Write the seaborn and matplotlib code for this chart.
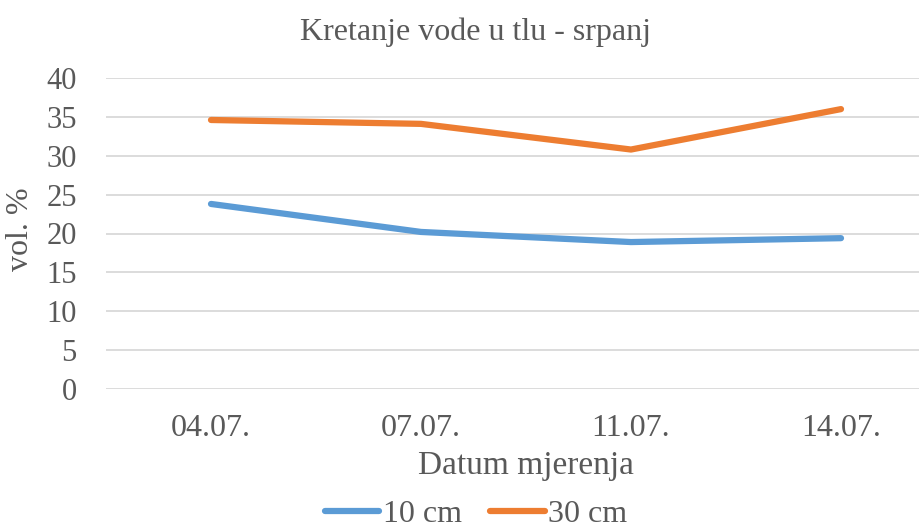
import matplotlib
matplotlib.use("Agg")
import matplotlib.pyplot as plt
from matplotlib.lines import Line2D
import seaborn as sns
import pandas as pd

# data
datumi = ["04.07.", "07.07.", "11.07.", "14.07."]
dubina_10cm = [23.8, 20.2, 18.9, 19.4]
dubina_30cm = [34.6, 34.1, 30.8, 36.0]
serije = ["10 cm", "30 cm"]
boje = ["#5B9BD5", "#ED7D31"]

df = pd.DataFrame({
    "datum": datumi * 2,
    "poz": list(range(len(datumi))) * 2,
    "vlaga": dubina_10cm + dubina_30cm,
    "serija": [serije[0]] * len(datumi) + [serije[1]] * len(datumi),
})

sns.set_style("white")
plt.rcParams["font.family"] = ["Liberation Serif", "DejaVu Serif"]
siva = "#595959"

W, H = 920, 529
fig = plt.figure(figsize=(W / 100, H / 100), dpi=100)
# plot area runs past the right edge, like in the original Excel chart
ax = fig.add_axes([106 / W, (H - 389) / H, 840 / W, (389 - 78) / H])

sns.lineplot(data=df, x="poz", y="vlaga", hue="serija", palette=boje,
             linewidth=4.5, ax=ax, legend=False, solid_capstyle="round")

ax.set_ylim(0, 40)
ax.set_xlim(-0.5, len(datumi) - 0.5)
ax.set_yticks(range(0, 41, 5))
ax.set_xticks(range(len(datumi)))
ax.set_xticklabels(datumi)
ax.tick_params(axis="x", length=0, labelsize=23, labelcolor=siva, pad=18)
ax.tick_params(axis="y", length=0, labelsize=22, labelcolor=siva, pad=21)
ax.yaxis.grid(True, color="#D9D9D9", linewidth=1.3)
ax.set_axisbelow(True)
for s in ax.spines.values():
    s.set_visible(False)

ax.set_xlabel("Datum mjerenja", fontsize=24, color=siva, va="center")
ax.xaxis.set_label_coords(0.5, (389 - 466) / 311)
ax.set_ylabel("vol. %", fontsize=23, color=siva, va="center")
ax.yaxis.set_label_coords((20 - 106) / 840, 0.5 - (229 - 233.5) / 311)

fig.text(476 / W, 1 - 32 / H, "Kretanje vode u tlu - srpanj",
         ha="center", va="center", fontsize=23, color=siva)

rucke = [Line2D([0], [0], color=b, linewidth=4.5, solid_capstyle="round") for b in boje]
fig.legend(rucke, serije, loc="center", bbox_to_anchor=(476 / W, 1 - 514 / H),
           ncol=2, frameon=False, fontsize=23, labelcolor=siva,
           handlelength=1.7, handletextpad=0.1, columnspacing=0.9,
           borderaxespad=0, borderpad=0)

fig.savefig("out.png", dpi=100)
